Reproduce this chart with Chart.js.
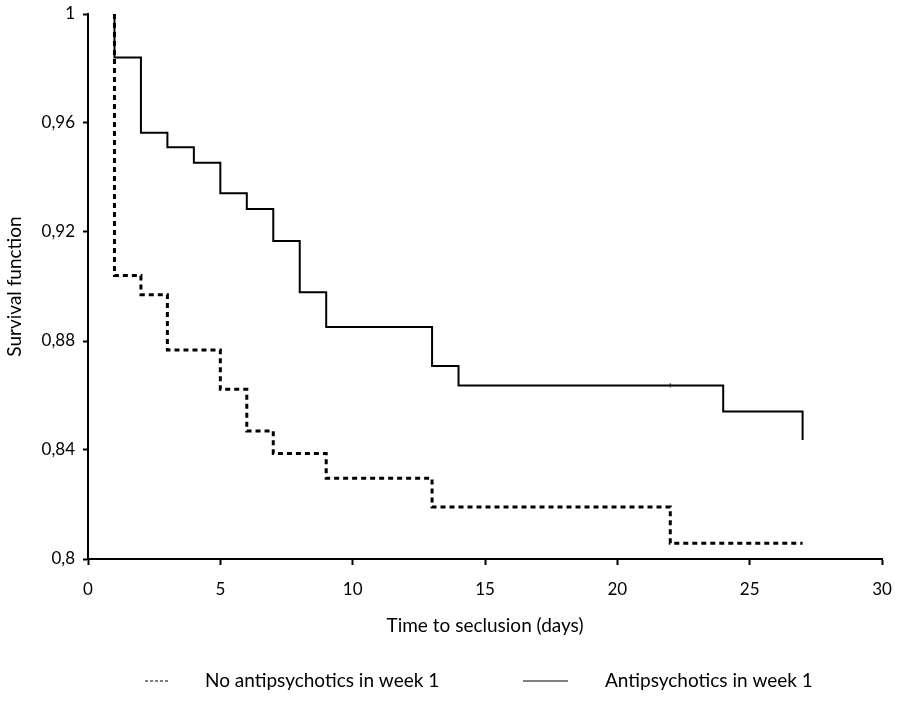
<!DOCTYPE html>
<html>
<head>
<meta charset="utf-8">
<script src="https://cdn.jsdelivr.net/npm/chart.js@4"></script>
<style>
  html, body { margin: 0; padding: 0; background: #fff; }
  #wrap { width: 898px; height: 703px; }
</style>
</head>
<body>
<div id="wrap"><canvas id="kmChart" width="898" height="703"></canvas></div>
<script>
// Kaplan-Meier curves (value after each event day)
const noAntiDays = [1, 1, 2, 3, 5, 6, 7, 9, 13, 22, 27];
const noAntiSurv = [1, 0.904, 0.897, 0.8767, 0.8623, 0.847, 0.8387, 0.8296, 0.8191, 0.8058, 0.8058];

const antiDays = [1, 1, 2, 3, 4, 5, 6, 7, 8, 9, 13, 14, 22, 24, 27];
const antiSurv = [1, 0.984, 0.9564, 0.9511, 0.9454, 0.9342, 0.9284, 0.9167, 0.8979, 0.8851, 0.8708, 0.8637, 0.8637, 0.8541, 0.8437];
const antiCensored = [22];

const seriesNames = ["No antipsychotics in week 1", "Antipsychotics in week 1"];
const xTicks = [0, 5, 10, 15, 20, 25, 30];
const yTickLabels = ["0,8", "0,84", "0,88", "0,92", "0,96", "1"];

const FONT = "Lato, 'Open Sans', sans-serif";

function toPoints(days, surv) {
  return days.map((d, i) => ({ x: d, y: surv[i] }));
}

// legend drawn under the axis title, like the original
const bottomLegend = {
  id: "bottomLegend",
  afterDraw(chart) {
    const ctx = chart.ctx;
    const y = 681;
    ctx.save();
    ctx.strokeStyle = "#000";
    ctx.fillStyle = "#000";
    ctx.font = "19px " + FONT;
    ctx.textBaseline = "middle";
    // dashed sample
    ctx.lineWidth = 1;
    ctx.setLineDash([3, 2]);
    ctx.beginPath();
    ctx.moveTo(145, y);
    ctx.lineTo(168, y);
    ctx.stroke();
    ctx.fillText(chart.data.datasets[0].label, 205, y);
    // solid sample
    ctx.setLineDash([]);
    ctx.beginPath();
    ctx.moveTo(523, y);
    ctx.lineTo(568, y);
    ctx.stroke();
    ctx.fillText(chart.data.datasets[1].label, 605, y);
    ctx.restore();
  }
};

const ctx = document.getElementById("kmChart");

new Chart(ctx, {
  type: "line",
  data: {
    datasets: [
      {
        label: seriesNames[0],
        data: toPoints(noAntiDays, noAntiSurv),
        borderColor: "#000",
        borderWidth: 3,
        borderDash: [5, 4],
        borderCapStyle: "butt",
        stepped: "before",
        pointRadius: 0,
        fill: false
      },
      {
        label: seriesNames[1],
        data: toPoints(antiDays, antiSurv),
        borderColor: "#000",
        borderWidth: 2,
        stepped: "before",
        pointStyle: "line",
        rotation: 90,
        pointBorderColor: "#000",
        pointBorderWidth: 1,
        pointRadius: antiDays.map((d, i) => (antiCensored.includes(d) && i > 0 && antiDays[i - 1] !== d) ? 2 : 0),
        fill: false
      }
    ]
  },
  options: {
    responsive: false,
    animation: false,
    events: [],
    layout: { padding: { left: 0, right: 16, top: 14, bottom: 0 } },
    plugins: {
      legend: { display: false },
      tooltip: { enabled: false }
    },
    scales: {
      x: {
        type: "linear",
        min: 0,
        max: 30,
        afterFit: (s) => { s.height = 144; s.paddingLeft = 0; s.paddingRight = 0; },
        afterBuildTicks: (s) => { s.ticks = xTicks.map(v => ({ value: v })); },
        border: { color: "#000", width: 2 },
        grid: { drawOnChartArea: false, drawTicks: true, tickLength: 6, tickColor: "#000", tickWidth: 2 },
        ticks: { color: "#000", font: { family: FONT, size: 17 }, padding: 14 },
        title: {
          display: true,
          text: "Time to seclusion (days)",
          color: "#000",
          font: { family: FONT, size: 19 },
          padding: { top: 0, bottom: 66 }
        }
      },
      y: {
        type: "linear",
        min: 0.8,
        max: 1,
        afterFit: (s) => { s.width = 88; s.paddingTop = 0; s.paddingBottom = 0; },
        afterBuildTicks: (s) => { s.ticks = yTickLabels.map((t, i) => ({ value: 0.8 + i * 0.04 })); },
        border: { color: "#000", width: 2 },
        grid: { drawOnChartArea: false, drawTicks: true, tickLength: 5, tickColor: "#000", tickWidth: 2 },
        ticks: {
          color: "#000",
          font: { family: FONT, size: 17 },
          padding: 8,
          callback: (v, i) => yTickLabels[i]
        },
        title: {
          display: true,
          text: "Survival function",
          color: "#000",
          font: { family: FONT, size: 19 },
          padding: { top: 3, bottom: 0 }
        }
      }
    }
  },
  plugins: [bottomLegend]
});
</script>
</body>
</html>
